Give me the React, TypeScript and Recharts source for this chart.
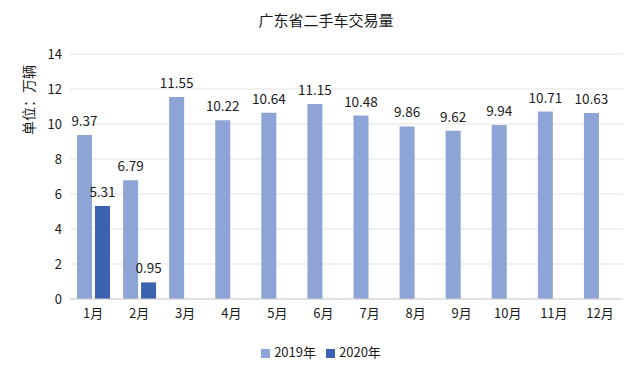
import React from 'react';
import { BarChart, Bar, XAxis, YAxis, CartesianGrid, Legend, LabelList } from 'recharts';

const months = ['1月', '2月', '3月', '4月', '5月', '6月', '7月', '8月', '9月', '10月', '11月', '12月'];
const values2019 = [9.37, 6.79, 11.55, 10.22, 10.64, 11.15, 10.48, 9.86, 9.62, 9.94, 10.71, 10.63];
const values2020: (number | null)[] = [5.31, 0.95, null, null, null, null, null, null, null, null, null, null];
const yTicks = [0, 2, 4, 6, 8, 10, 12, 14];

const data = months.map((m, i) => ({ month: m, y2019: values2019[i], y2020: values2020[i] }));

const FONT = '"Noto Sans CJK SC", "Noto Sans", sans-serif';

export default function App() {
  return (
    <div style={{ position: 'absolute', left: 0, top: 0, width: 640, height: 373, background: '#fff', fontFamily: FONT }}>
      <div style={{ position: 'absolute', left: 0, top: 9, width: 652, textAlign: 'center', fontSize: 15, color: '#1a1a1a' }}>
        广东省二手车交易量
      </div>
      <div
        style={{
          position: 'absolute',
          left: 28,
          top: 100,
          transform: 'translate(-50%, -50%) rotate(-90deg)',
          fontSize: 14,
          color: '#1a1a1a',
          whiteSpace: 'nowrap',
        }}
      >
        单位：万辆
      </div>
      <BarChart
        width={640}
        height={373}
        data={data}
        margin={{ top: 54, right: 17, bottom: 0, left: 0 }}
        barGap={3}
        barSize={15}
      >
        <CartesianGrid vertical={false} stroke="#E3E3E3" />
        <XAxis
          dataKey="month"
          axisLine={{ stroke: '#D0D0D0' }}
          tickLine={false}
          tick={{ fill: '#1a1a1a', fontSize: 13, fontFamily: FONT }}
          tickMargin={4}
          height={55}
        />
        <YAxis
          domain={[0, 14]}
          ticks={yTicks}
          axisLine={false}
          tickLine={false}
          width={70}
          tick={{ fill: '#1a1a1a', fontSize: 13, fontFamily: FONT }}
          tickMargin={2}
        />
        <Legend
          verticalAlign="bottom"
          iconType="square"
          iconSize={9}
          wrapperStyle={{ fontSize: 13, fontFamily: FONT, bottom: 12, left: 0, width: 652 }}
          formatter={(v: string) => <span style={{ color: '#1a1a1a' }}>{v}</span>}
        />
        <Bar dataKey="y2019" name="2019年" fill="#8FA4D6" isAnimationActive={false}>
          <LabelList dataKey="y2019" position="top" offset={9} style={{ fill: '#1a1a1a', fontSize: 13.5, fontFamily: FONT }} />
        </Bar>
        <Bar dataKey="y2020" name="2020年" fill="#3A62AE" isAnimationActive={false}>
          <LabelList dataKey="y2020" position="top" offset={9} style={{ fill: '#1a1a1a', fontSize: 13.5, fontFamily: FONT }} />
        </Bar>
      </BarChart>
    </div>
  );
}
